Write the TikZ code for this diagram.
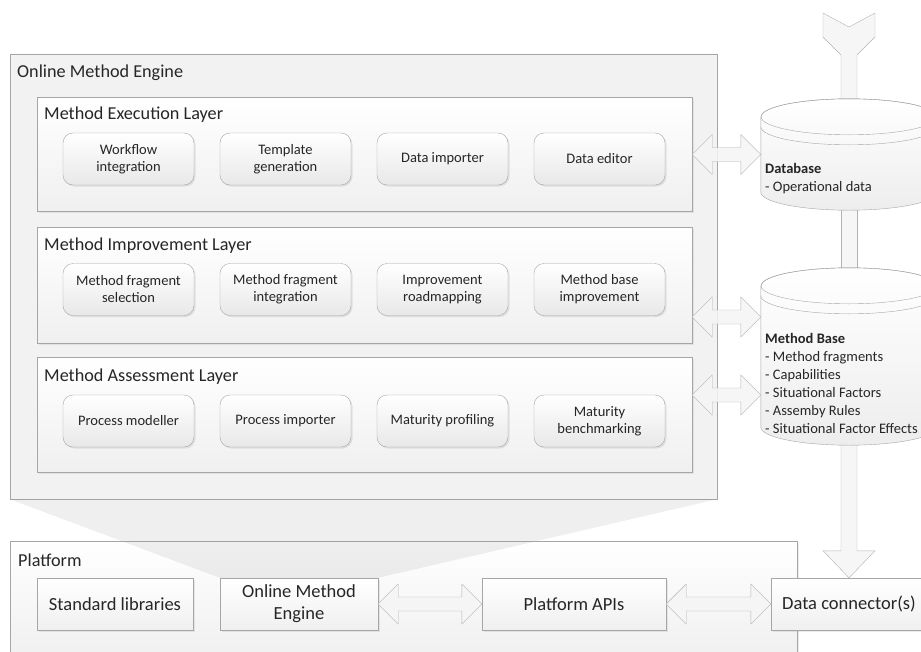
\documentclass[tikz,border=0pt]{standalone}
\usepackage{fontspec}
\setmainfont{Carlito}
\usetikzlibrary{calc,shadows}

% fat two-headed arrow from the first point to the second, at the first point's height
\newcommand{\dblarrow}[2]{%
  \draw[blockarrow] let \p1=(#1), \p2=(#2) in
    (\x1,\y1) -- (\x1+20pt,\y1+20pt) -- (\x1+20pt,\y1+7pt) -- (\x2-20pt,\y1+7pt)
    -- (\x2-20pt,\y1+20pt) -- (\x2,\y1) -- (\x2-20pt,\y1-20pt) -- (\x2-20pt,\y1-7pt)
    -- (\x1+20pt,\y1-7pt) -- (\x1+20pt,\y1-20pt) -- cycle;}

\begin{document}
\begin{tikzpicture}[x=1pt, y=-1pt,
    every node/.style={text=black!85, inner sep=0pt},
    title/.style={anchor=west, font=\fontsize{18.2}{22}\selectfont},
    outerbox/.style={draw=black!35, fill=black!5},
    layerbox/.style={draw=black!35, top color=white, bottom color=black!6,
      minimum width=655pt, drop shadow={shadow xshift=1.5pt, shadow yshift=-1.5pt, opacity=0.15}},
    toolbox/.style={draw=black!35, rounded corners=10pt, top color=white, bottom color=black!9,
      minimum width=131pt, minimum height=52pt, align=center, font=\fontsize{14.5}{17}\selectfont,
      drop shadow={shadow xshift=1.5pt, shadow yshift=-1.5pt, opacity=0.18}},
    platnode/.style={draw=black!35, top color=white, bottom color=black!6, minimum height=52pt,
      align=center, font=\fontsize{18.5}{22}\selectfont,
      drop shadow={shadow xshift=1.5pt, shadow yshift=-1.5pt, opacity=0.15}},
    cyl/.style={draw=black!35, top color=white, bottom color=black!7},
    cyltext/.style={anchor=west, align=left, font=\fontsize{14.5}{18}\selectfont},
    blockarrow/.style={draw=black!30, fill=black!4, fill opacity=0.85}]

  \useasboundingbox (0,0) rectangle (921,651);
  \clip (0,0) rectangle (921,651);

  % online method engine
  \node[outerbox, minimum width=707pt, minimum height=445pt] (ome) at (363.5,276.5) {};
  \node[title] (omelabel) at (17,73) {Online Method Engine};

  \node[layerbox, minimum height=114pt] (exec) at (364.5,154) {};
  \node[title] (execlabel) at (44,115) {Method Execution Layer};
  \node[layerbox, minimum height=116pt] (impr) at (364.5,285) {};
  \node[title] (imprlabel) at (44,246) {Method Improvement Layer};
  \node[layerbox, minimum height=115pt] (asse) at (364.5,414.5) {};
  \node[title] (asselabel) at (44,377) {Method Assessment Layer};

  \foreach \n/\t [count=\i from 0] in {wfint/{Workflow\\integration}, tplgen/{Template\\generation},
      dataimp/{Data importer}, dataed/{Data editor}}
    \node[toolbox] (\n) at (128.5+157*\i,159) {\t};
  \foreach \n/\t [count=\i from 0] in {fragsel/{Method fragment\\selection}, fragint/{Method fragment\\integration},
      roadmap/{Improvement\\roadmapping}, baseimp/{Method base\\improvement}}
    \node[toolbox] (\n) at (128.5+157*\i,289.5) {\t};
  \foreach \n/\t [count=\i from 0] in {procmod/{Process modeller}, procimp/{Process importer},
      matprof/{Maturity profiling}, matbench/{Maturity\\benchmarking}}
    \node[toolbox] (\n) at (128.5+157*\i,421) {\t};

  % platform
  \node[platnode, minimum width=787pt, minimum height=118pt] (plat) at (403.5,600) {};
  \node[title] (platlabel) at (18,560) {Platform};
  \node[platnode, minimum width=156pt] (stdlib) at (115,604) {Standard libraries};
  \node[platnode, minimum width=158pt] (omeplat) at (299,604) {Online Method\\Engine};
  \node[platnode, minimum width=184pt] (apis) at (574,604) {Platform APIs};
  \node[platnode, minimum width=156pt] (conn) at (849,604) {Data connector(s)};

  \fill[black!45, opacity=0.14] (ome.south west) -- (ome.south east)
    -- (omeplat.north east) -- (omeplat.north west) -- cycle;

  % stores
  \node[minimum width=176pt, minimum height=75pt] (db) at (849,154.5) {};
  \node[minimum width=176pt, minimum height=141pt] (mb) at (849,356.5) {};
  \coordinate (feed) at (849,13);

  \draw[blockarrow] let \p1=(feed), \p2=(db.north) in
    (\x1-26pt,\y1) -- (\x1,\y1-14pt) -- (\x1+26pt,\y1) -- (\x1+26pt,\y1-24pt)
    -- (\x1+8pt,\y1-42pt) -- (\x1+8pt,\y2) -- (\x1-8pt,\y2) -- (\x1-8pt,\y1-42pt)
    -- (\x1-26pt,\y1-24pt) -- cycle;
  \draw[blockarrow] ([xshift=-8pt]db.south) rectangle ([xshift=8pt]mb.north);
  \draw[blockarrow] let \p1=(mb.south), \p2=(conn.north) in
    (\x1-8pt,\y1) -- (\x1-8pt,\y2+27pt) -- (\x1-26pt,\y2+27pt) -- (\x2,\y2)
    -- (\x1+26pt,\y2+27pt) -- (\x1+8pt,\y2+27pt) -- (\x1+8pt,\y1) -- cycle;

  \foreach \c in {db, mb} {
    \draw[cyl] (\c.north west) -- (\c.south west)
      arc[start angle=180, end angle=360, x radius=88pt, y radius=18pt]
      -- (\c.north east) arc[start angle=0, end angle=180, x radius=88pt, y radius=18pt] -- cycle;
    \draw[draw=black!35] (\c.north) ellipse[x radius=88pt, y radius=18pt];
    \draw[draw=black!35] ([yshift=-10pt]\c.north west)
      arc[start angle=180, end angle=360, x radius=88pt, y radius=18pt];
  }
  \node[cyltext] (dbtext) at (765,179) {\textbf{Database}\\- Operational data};
  \node[cyltext] (mbtext) at (765,383) {\textbf{Method Base}\\- Method fragments\\- Capabilities\\
    - Situational Factors\\- Assemby Rules\\- Situational Factor Effects};

  % links
  \dblarrow{[yshift=-0.5pt]exec.east}{db.west}
  \dblarrow{[yshift=-32pt]impr.east}{mb.west}
  \dblarrow{[yshift=19.5pt]asse.east}{mb.west}
  \dblarrow{omeplat.east}{apis.west}
  \dblarrow{apis.east}{conn.west}
\end{tikzpicture}
\end{document}
